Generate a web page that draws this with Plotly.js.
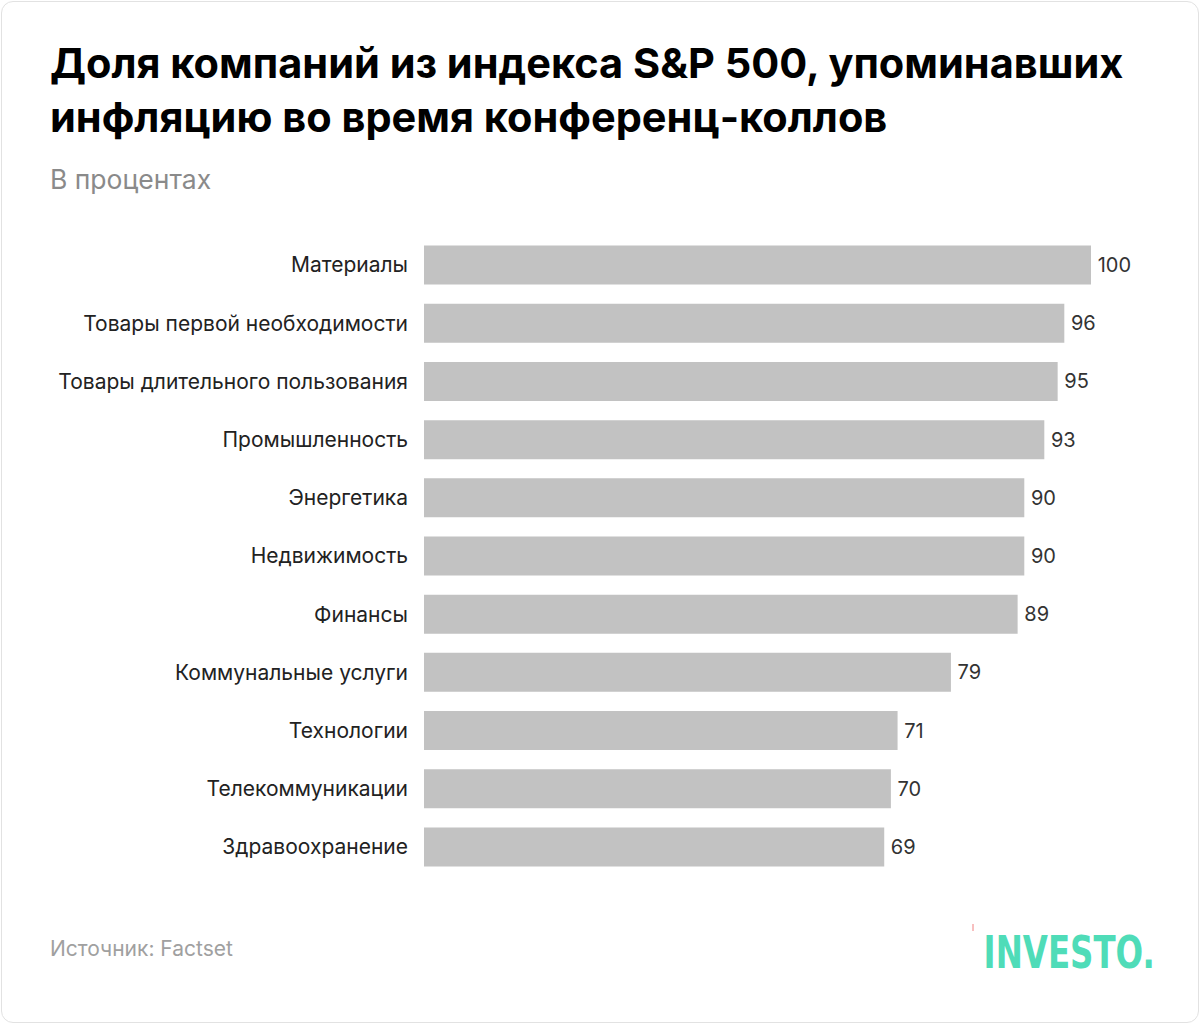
<!DOCTYPE html>
<html><head><meta charset="utf-8">
<script src="https://cdn.plot.ly/plotly-3.0.1.min.js"></script>
<style>
html,body{margin:0;padding:0;background:#fff;}
#wrap{position:absolute;left:1px;top:1px;width:1196px;height:1020px;border:1px solid #e2e2e2;border-radius:12px;overflow:hidden;}
#chart{position:absolute;left:-2px;top:-2px;width:1200px;height:1024px;}
</style></head>
<body><div id="wrap"><div id="chart"></div></div>
<script>
const categories = ["Материалы","Товары первой необходимости","Товары длительного пользования","Промышленность","Энергетика","Недвижимость","Финансы","Коммунальные услуги","Технологии","Телекоммуникации","Здравоохранение"];
const values = [100,96,95,93,90,90,89,79,71,70,69];

const W = 667, H = 640, L = 424, T = 236;
const px = x => (x - L) / W;
const py = y => 1 - (y - T) / H;

const trace = {
  type:'bar', orientation:'h', y:categories, x:values,
  marker:{color:'#c2c2c2'}, width:0.67,
  text:values.map(v => '\u2009' + v), textposition:'outside', cliponaxis:false,
  textfont:{family:'Inter, Roboto, sans-serif', size:20, color:'#333'},
  hoverinfo:'none'
};
const layout = {
  width:1200, height:1024,
  margin:{l:L, r:1200-L-W, t:T, b:1024-T-H},
  paper_bgcolor:'rgba(0,0,0,0)', plot_bgcolor:'rgba(0,0,0,0)',
  showlegend:false,
  font:{family:'Inter, Roboto, sans-serif', color:'#222'},
  title:{text:'Доля компаний из индекса S&P 500, упоминавших<br>инфляцию во время конференц-коллов',
    x:50/1200, xanchor:'left', xref:'container', y:1-78/1024, yanchor:'top', yref:'container',
    font:{family:'Inter, Roboto, sans-serif', size:41.5, color:'#000', weight:700}},
  xaxis:{range:[0,100], visible:false, fixedrange:true},
  yaxis:{autorange:'reversed', showgrid:false, zeroline:false, showline:false, ticks:'',
    ticklabelstandoff:15, tickfont:{size:21, color:'#222'}, fixedrange:true},
  annotations:[
    {text:'В процентах', xref:'paper', yref:'paper', x:px(48), y:py(179), xanchor:'left', yanchor:'middle', showarrow:false,
     font:{size:26.5, color:'#8a8a8a'}},
    {text:'Источник: Factset', xref:'paper', yref:'paper', x:px(48), y:py(948), xanchor:'left', yanchor:'middle', showarrow:false,
     font:{size:21, color:'#a0a0a0'}},
    {text:'<b>INVESTO.</b>', xref:'paper', yref:'paper', x:px(1157), y:py(952), xanchor:'right', yanchor:'middle', showarrow:false,
     font:{family:'"DejaVu Sans Condensed", "Liberation Sans Narrow", sans-serif', size:44, color:'#4fdcb8'}}
  ],
  shapes:[
    {type:'line', xref:'paper', yref:'paper', x0:px(973), x1:px(973), y0:py(924), y1:py(931), line:{color:'#f08080', width:1}}
  ]
};
Plotly.newPlot('chart',[trace],layout,{displayModeBar:false, staticPlot:true}).then(gd => {
  gd.querySelectorAll('.annotation-text').forEach(t => {
    if (t.textContent.indexOf('INVESTO') >= 0) {
      t.style.transformBox = 'fill-box';
      t.style.transformOrigin = 'right center';
      t.style.transform = 'scaleX(0.82)';
    }
  });
});
</script></body></html>
